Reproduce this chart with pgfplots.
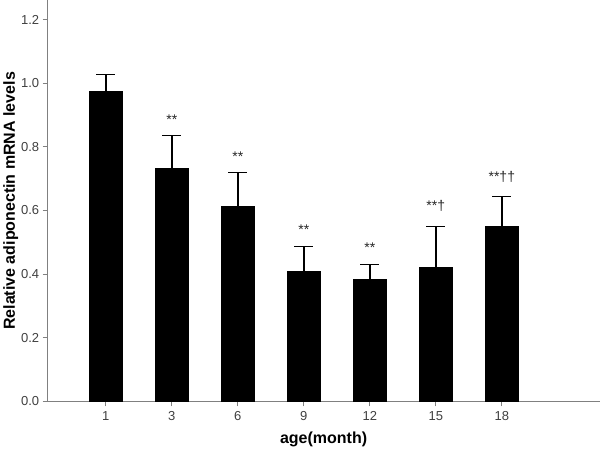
\documentclass[border=0pt]{standalone}
\usepackage{pgfplots}
\pgfplotsset{compat=1.18}
\usepackage{fontspec}
\setmainfont{Liberation Sans}
\begin{document}
\begin{tikzpicture}
\begin{axis}[
    scale only axis,
    width=552pt, height=401pt,
    xmin=-0.88, xmax=7.48,
    ymin=0, ymax=1.26,
    axis x line*=bottom, axis y line*=left,
    axis line style={-, draw=gray, line width=1pt},
    xtick={0,...,6},
    xticklabels={1,3,6,9,12,15,18},
    ytick={0,0.2,...,1.2},
    yticklabel style={/pgf/number format/.cd, fixed, fixed zerofill, precision=1},
    /pgf/number format/assume math mode=true,
    tick style={draw=gray, line width=1pt},
    tick align=outside,
    major tick length=5pt,
    ticklabel style={font=\fontsize{13}{15}\selectfont, text=black!75},
    xticklabel style={yshift=-2pt},
    xlabel={\textbf{age(month)}},
    ylabel={\textbf{Relative adiponectin mRNA levels}},
    label style={font=\fontsize{16}{18}\selectfont},
    xlabel style={yshift=-4pt},
    ylabel style={yshift=-4pt},
    clip=false,
]
\addplot[ybar, bar width=33pt, fill=black, draw=black,
    error bars/.cd, y dir=plus, y explicit,
    error bar style={black, line width=1.5pt},
    error mark options={rotate=90, mark size=9.5pt, line width=1.5pt}]
    coordinates {
    (0,0.975) +- (0,0.052)
    (1,0.732) +- (0,0.104)
    (2,0.613) +- (0,0.107)
    (3,0.408) +- (0,0.079)
    (4,0.383) +- (0,0.047)
    (5,0.421) +- (0,0.129)
    (6,0.550) +- (0,0.094)
    };
\addplot[only marks, mark=none, nodes near coords, point meta=explicit symbolic,
    every node near coord/.append style={font=\fontsize{14}{16}\selectfont, text=black!85, anchor=center}]
    coordinates {
    (1,0.885)[**]
    (2,0.770)[**]
    (3,0.540)[**]
    (4,0.483)[**]
    (5,0.615)[**†]
    (6,0.705)[**††]
    };
\end{axis}
\end{tikzpicture}
\end{document}
